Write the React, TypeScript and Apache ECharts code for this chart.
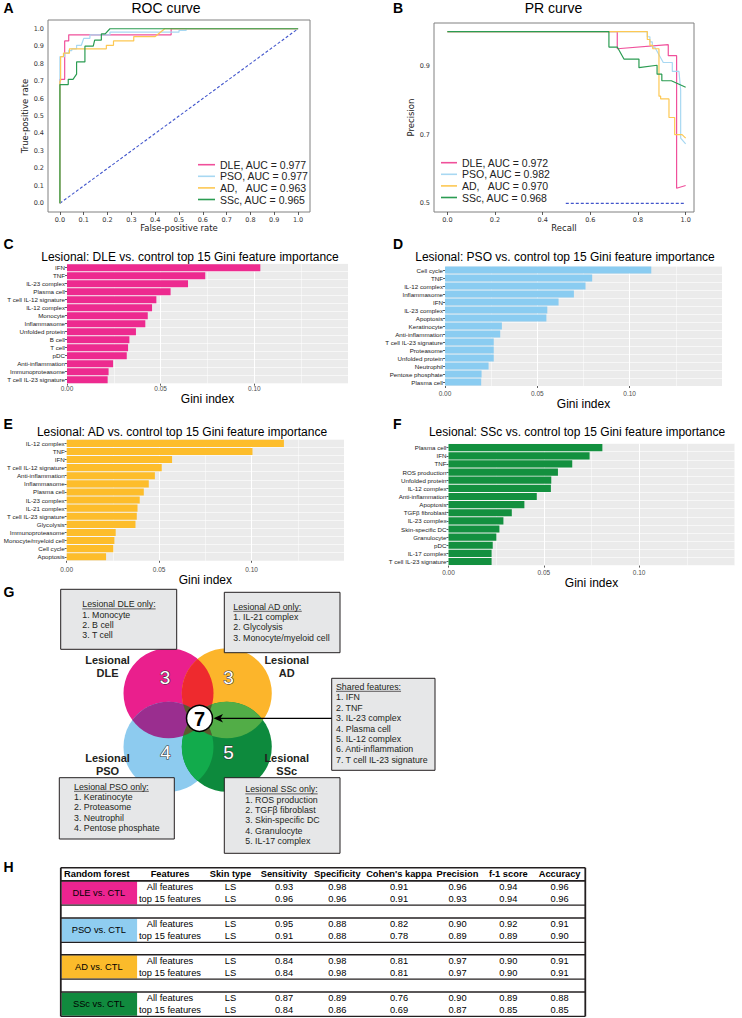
import React, { useEffect, useRef } from "react";
import * as echarts from "echarts";

// ---------------- DATA ----------------
const rocNames = ["DLE, AUC = 0.977", "PSO, AUC = 0.977", "AD,   AUC = 0.963", "SSc, AUC = 0.965"];
const prNames = ["DLE, AUC = 0.972", "PSO, AUC = 0.982", "AD,   AUC = 0.970", "SSc, AUC = 0.968"];
const rocTicks = [0, 0.1, 0.2, 0.3, 0.4, 0.5, 0.6, 0.7, 0.8, 0.9, 1.0];
const prXTicks = [0, 0.2, 0.4, 0.6, 0.8, 1.0];
const prYTicks = [0.5, 0.7, 0.9];

const rocDLE = [[0, 0], [0, 0.71], [0.02, 0.71], [0.02, 0.93], [0.037, 0.93], [0.037, 0.965], [0.467, 0.965], [0.467, 1], [1, 1]];
const rocPSO = [[0, 0], [0, 0.84], [0.02, 0.84], [0.02, 0.86], [0.037, 0.86], [0.037, 0.875], [0.05, 0.875], [0.05, 0.885], [0.07, 0.885], [0.07, 0.905], [0.09, 0.905], [0.1, 0.945], [0.126, 0.945], [0.126, 0.965], [0.21, 0.965], [0.21, 0.98], [0.5, 0.98], [0.5, 0.99], [0.53, 0.99], [0.53, 1], [1, 1]];
const rocAD = [[0, 0], [0, 0.7], [0.003, 0.7], [0.003, 0.84], [0.015, 0.84], [0.015, 0.86], [0.04, 0.86], [0.04, 0.885], [0.195, 0.885], [0.195, 0.905], [0.225, 0.905], [0.225, 0.93], [0.31, 0.93], [0.31, 0.955], [0.4, 0.955], [0.44, 1], [1, 1]];
const rocSSc = [[0, 0], [0, 0.68], [0.035, 0.68], [0.035, 0.71], [0.055, 0.71], [0.07, 0.74], [0.07, 0.81], [0.105, 0.81], [0.105, 0.9], [0.14, 0.9], [0.146, 0.935], [0.174, 0.935], [0.174, 0.97], [0.19, 0.97], [0.21, 1], [1, 1]];
const rocChance = [[0, 0], [1, 1]];

const prDLE = [[0, 1], [0.713, 1], [0.713, 0.95], [0.927, 0.962], [0.927, 0.93], [0.962, 0.93], [0.962, 0.544], [1.0, 0.552]];
const prPSO = [[0, 1], [0.839, 1], [0.839, 0.985], [0.85, 0.985], [0.85, 0.97], [0.86, 0.97], [0.86, 0.955], [0.87, 0.955], [0.906, 0.91], [0.944, 0.91], [0.944, 0.884], [0.972, 0.884], [0.979, 0.83], [0.979, 0.69], [1.0, 0.673]];
const prAD = [[0, 1], [0.839, 1], [0.839, 0.977], [0.85, 0.977], [0.85, 0.96], [0.862, 0.96], [0.862, 0.95], [0.888, 0.95], [0.888, 0.812], [0.895, 0.812], [0.895, 0.804], [0.93, 0.804], [0.93, 0.75], [0.954, 0.75], [0.954, 0.7], [0.985, 0.7], [1.0, 0.69]];
const prSSc = [[0, 1], [0.678, 1], [0.678, 0.955], [0.713, 0.955], [0.741, 0.92], [0.804, 0.92], [0.804, 0.895], [0.88, 0.902], [0.88, 0.876], [0.9, 0.876], [0.9, 0.857], [0.94, 0.857], [1.0, 0.838]];
const prBaseline = [[0.497, 0.5], [1.0, 0.5]];

const dleFeatures = ["IFN", "TNF", "IL-23 complex", "Plasma cell", "T cell IL-12 signature", "IL-12 complex", "Monocyte", "Inflammasome", "Unfolded protein", "B cell", "T cell", "pDC", "Anti-inflammation", "Immunoproteasome", "T cell IL-23 signature"];
const dleGini = [0.1032, 0.0738, 0.0646, 0.0553, 0.0477, 0.0454, 0.0431, 0.0418, 0.0368, 0.0333, 0.0326, 0.0319, 0.0246, 0.0222, 0.0217];
const psoFeatures = ["Cell cycle", "TNF", "IL-12 complex", "Inflammasome", "IFN", "IL-23 complex", "Apoptosis", "Keratinocyte", "Anti-inflammation", "T cell IL-23 signature", "Proteasome", "Unfolded protein", "Neutrophil", "Pentose phosphate", "Plasma cell"];
const psoGini = [0.1117, 0.0797, 0.0761, 0.0698, 0.0615, 0.0554, 0.0549, 0.0308, 0.0299, 0.0264, 0.0264, 0.0264, 0.0236, 0.0198, 0.0196];
const adFeatures = ["IL-12 complex", "TNF", "IFN", "T cell IL-12 signature", "Anti-inflammation", "Inflammasome", "Plasma cell", "IL-23 complex", "IL-21 complex", "T cell IL-23 signature", "Glycolysis", "Immunoproteasome", "Monocyte/myeloid cell", "Cell cycle", "Apoptosis"];
const adGini = [0.1175, 0.1005, 0.057, 0.0514, 0.0477, 0.0444, 0.0417, 0.0395, 0.0383, 0.0379, 0.0372, 0.0265, 0.0258, 0.0252, 0.0213];
const sscFeatures = ["Plasma cell", "IFN", "TNF", "ROS production", "Unfolded protein", "IL-12 complex", "Anti-inflammation", "Apoptosis", "TGFβ fibroblast", "IL-23 complex", "Skin-specific DC", "Granulocyte", "pDC", "IL-17 complex", "T cell IL-23 signature"];
const sscGini = [0.0807, 0.074, 0.0649, 0.0574, 0.0539, 0.0537, 0.0463, 0.0398, 0.0332, 0.0288, 0.0267, 0.0251, 0.0232, 0.0226, 0.0226];
const giniTicks = [0, 0.05, 0.1];

const barTitles = [
  "Lesional: DLE vs. control top 15 Gini feature importance",
  "Lesional: PSO vs. control top 15 Gini feature importance",
  "Lesional: AD vs. control top 15 Gini feature importance",
  "Lesional: SSc vs. control top 15 Gini feature importance",
];

const vennCounts = [3, 3, 4, 5];
const vennShared = 7;
const dleOnly = ["1. Monocyte", "2. B cell", "3. T cell"];
const adOnly = ["1. IL-21 complex", "2. Glycolysis", "3. Monocyte/myeloid cell"];
const psoOnly = ["1. Keratinocyte", "2. Proteasome", "3. Neutrophil", "4. Pentose phosphate"];
const sscOnly = ["1. ROS production", "2. TGFβ fibroblast", "3. Skin-specific DC", "4. Granulocyte", "5. IL-17 complex"];
const sharedFeatures = ["1. IFN", "2. TNF", "3. IL-23 complex", "4. Plasma cell", "5. IL-12 complex", "6. Anti-inflammation", "7. T cell IL-23 signature"];

const tableHeaders = ["Random forest", "Features", "Skin type", "Sensitivity", "Specificity", "Cohen's kappa", "Precision", "f-1 score", "Accuracy"];
const tableModels = ["DLE vs. CTL", "PSO vs. CTL", "AD vs. CTL", "SSc vs. CTL"];
const tableFeatureSets = ["All features", "top 15 features"];
const tableSkin = "LS";
const metricsDLE = [[0.93, 0.98, 0.91, 0.96, 0.94, 0.96], [0.96, 0.96, 0.91, 0.93, 0.94, 0.96]];
const metricsPSO = [[0.95, 0.88, 0.82, 0.9, 0.92, 0.91], [0.91, 0.88, 0.78, 0.89, 0.89, 0.9]];
const metricsAD = [[0.84, 0.98, 0.81, 0.97, 0.9, 0.91], [0.84, 0.98, 0.81, 0.97, 0.9, 0.91]];
const metricsSSc = [[0.87, 0.89, 0.76, 0.9, 0.89, 0.88], [0.84, 0.86, 0.69, 0.87, 0.85, 0.85]];

// ---------------- STYLE ----------------
const SANS = "'Liberation Sans', Arial, sans-serif";
const DEJAVU = "'DejaVu Sans', sans-serif";
const lineColors = ["#f0509b", "#a8d8f2", "#fdc853", "#2b9c52"];
const barColors = ["#ed2a8f", "#8accf1", "#fdbd2b", "#13903f"];
const groupColors = ["#ec2490", "#8fcdf0", "#fbbb2b", "#118a3e"];

// Venn geometry
const R = 45;
const cDLE = [168.5, 693.3];
const cAD = [226.8, 693.3];
const cPSO = [168.5, 746.8];
const cSSc = [226.8, 746.8];

function lensPath(c1: number[], c2: number[], r: number) {
  const dx = c2[0] - c1[0], dy = c2[1] - c1[1];
  const d = Math.hypot(dx, dy);
  const h = Math.sqrt(r * r - (d / 2) * (d / 2));
  const mx = c1[0] + dx / 2, my = c1[1] + dy / 2;
  const ux = -dy / d, uy = dx / d;
  const p1 = [mx + ux * h, my + uy * h], p2 = [mx - ux * h, my - uy * h];
  const f = (n: number) => n.toFixed(2);
  return `M${f(p1[0])} ${f(p1[1])} A${r} ${r} 0 0 1 ${f(p2[0])} ${f(p2[1])} A${r} ${r} 0 0 1 ${f(p1[0])} ${f(p1[1])} Z`;
}

echarts.graphic.registerShape("lensDA", echarts.graphic.extendPath(lensPath(cDLE, cAD, R), {}));
echarts.graphic.registerShape("lensDP", echarts.graphic.extendPath(lensPath(cDLE, cPSO, R), {}));
echarts.graphic.registerShape("lensAS", echarts.graphic.extendPath(lensPath(cAD, cSSc, R), {}));
echarts.graphic.registerShape("lensPS", echarts.graphic.extendPath(lensPath(cPSO, cSSc, R), {}));
echarts.graphic.registerShape("lensDS", echarts.graphic.extendPath(lensPath(cDLE, cSSc, R), {}));
echarts.graphic.registerShape("lensAP", echarts.graphic.extendPath(lensPath(cAD, cPSO, R), {}));

function measure(text: string, font: string) {
  const ctx = document.createElement("canvas").getContext("2d");
  if (!ctx) return text.length * 4.5;
  ctx.font = font;
  return ctx.measureText(text).width;
}

function txt(text: string, x: number, y: number, o: any = {}) {
  return {
    type: "text",
    x,
    y,
    silent: true,
    z: 100,
    style: {
      text,
      fill: o.fill ?? "#000",
      fontSize: o.size ?? 9,
      fontFamily: o.family ?? SANS,
      fontWeight: o.weight ?? "normal",
      align: o.align ?? "left",
      verticalAlign: "middle",
      lineHeight: o.lineHeight,
      stroke: o.stroke,
      lineWidth: o.lineWidth,
    },
  };
}

function seg(x1: number, y1: number, x2: number, y2: number, w = 1, color = "#231f20") {
  return { type: "line", silent: true, z: 100, shape: { x1, y1, x2, y2 }, style: { stroke: color, lineWidth: w } };
}

function box(x: number, y: number, w: number, h: number, heading: string, items: string[], tx: number, ty: number, gap = 10.3) {
  const out: any[] = [];
  out.push({ type: "rect", z: 90, silent: true, shape: { x, y, width: w, height: h }, style: { fill: "#e6e7e8", stroke: "#231f20", lineWidth: 1 } });
  out.push(txt(heading, tx, ty, { size: 8.8, fill: "#231f20" }));
  const wid = measure(heading, `8.8px 'Liberation Sans'`);
  out.push(seg(tx, ty + 4.6, tx + wid, ty + 4.6, 0.7, "#231f20"));
  items.forEach((s, i) => out.push(txt(s, tx, ty + gap * (i + 1), { size: 8.8, fill: "#231f20" })));
  return out;
}

function buildGraphic() {
  const g: any[] = [];
  const letters: [string, number, number][] = [["A", 3.5, 8.3], ["B", 393, 8.3], ["C", 3.5, 244], ["D", 393, 244], ["E", 3.5, 424], ["F", 393, 424], ["G", 3.5, 592], ["H", 3.5, 867]];
  letters.forEach(([l, x, y]) => g.push(txt(l, x, y, { size: 14, weight: "bold" })));
  g.push(txt("ROC curve", 166, 8, { size: 14, align: "center" }));
  g.push(txt("PR curve", 553.5, 7.5, { size: 14, align: "center" }));
  g.push(txt(barTitles[0], 190, 256.7, { size: 12, align: "center" }));
  g.push(txt(barTitles[1], 565, 256.7, { size: 12, align: "center" }));
  g.push(txt(barTitles[2], 182, 432.3, { size: 12, align: "center" }));
  g.push(txt(barTitles[3], 577, 432.3, { size: 12, align: "center" }));

  const circ = (c: number[], fill: string) => ({ type: "circle", silent: true, z: 50, shape: { cx: c[0], cy: c[1], r: R }, style: { fill } });
  g.push(circ(cDLE, "#ea1f8d"));
  g.push(circ(cAD, "#fcb52b"));
  g.push(circ(cPSO, "#8dcbef"));
  g.push(circ(cSSc, "#0d8a3d"));
  const lens = (type: string, fill: string) => ({ type, x: 0, y: 0, silent: true, z: 51, style: { fill } });
  g.push(lens("lensDA", "#ee2a2e"));
  g.push(lens("lensDP", "#9a2e8f"));
  g.push(lens("lensAS", "#52ad47"));
  g.push(lens("lensPS", "#12ab4c"));
  g.push(lens("lensDS", "#5c5a2e"));
  g.push(lens("lensAP", "#5c5a2e"));
  const numStyle = { size: 19, fill: "#fff", stroke: "#333", lineWidth: 1.1, align: "center" };
  g.push(txt(String(vennCounts[0]), 165, 677, numStyle));
  g.push(txt(String(vennCounts[1]), 228.5, 677, numStyle));
  g.push(txt(String(vennCounts[2]), 165.5, 752, numStyle));
  g.push(txt(String(vennCounts[3]), 228.5, 752, numStyle));
  g.push({ type: "circle", silent: true, z: 60, shape: { cx: 199.5, cy: 718.3, r: 13 }, style: { fill: "#fff", stroke: "#000", lineWidth: 1.5 } });
  g.push(txt(String(vennShared), 199.5, 719, { size: 20, weight: "bold", align: "center" }));
  g.push(seg(331.7, 718.3, 220, 718.3, 1.2, "#000"));
  g.push({ type: "polygon", silent: true, z: 100, shape: { points: [[213.5, 718.3], [223, 714], [220.5, 718.3], [223, 722.6]] }, style: { fill: "#000" } });
  const lab = { size: 11, weight: "bold", align: "center", lineHeight: 13.5, fill: "#231f20" };
  g.push(txt("Lesional\nDLE", 107.5, 666.7, lab));
  g.push(txt("Lesional\nAD", 286.7, 666.7, lab));
  g.push(txt("Lesional\nPSO", 107.5, 764.7, lab));
  g.push(txt("Lesional\nSSc", 286.7, 764.7, lab));
  g.push(...box(60.7, 589.3, 116, 60, "Lesional DLE only:", dleOnly, 82.3, 604.3));
  g.push(...box(224.3, 592.3, 115.7, 60.4, "Lesional AD only:", adOnly, 233.3, 606.7));
  g.push(...box(331.7, 678.3, 103.3, 92, "Shared features:", sharedFeatures, 336, 686.7, 10.45));
  g.push(...box(59.3, 777.7, 115, 61.3, "Lesional PSO only:", psoOnly, 74, 786.7));
  g.push(...box(224.3, 777.7, 115.7, 75.6, "Lesional SSc only:", sscOnly, 245.3, 789.3));

  // Table
  const tL = 60.8, tR = 585.3, tTop = 867.7, hdrBot = 880.7;
  const blockTops = [880.7, 918, 954.7, 992];
  const blockH = 24.4;
  const colX = [97.4, 170, 230.4, 284, 337.3, 399, 457.5, 508.3, 559.6];
  const metrics = [metricsDLE, metricsPSO, metricsAD, metricsSSc];
  tableHeaders.forEach((h, i) => g.push(txt(h, i === 0 ? 64 : colX[i], 874.3, { size: 9.3, weight: "bold", align: i === 0 ? "left" : "center" })));
  blockTops.forEach((bt, b) => {
    g.push({ type: "rect", silent: true, z: 95, shape: { x: tL + 0.8, y: bt + 0.6, width: 75.5, height: blockH - 1.2 }, style: { fill: groupColors[b] } });
    g.push(txt(tableModels[b], 98.8, bt + blockH / 2, { size: 9.3, align: "center" }));
    tableFeatureSets.forEach((fs, r) => {
      const y = bt + 6.4 + r * 11.9;
      g.push(txt(fs, colX[1], y, { size: 9.3, align: "center" }));
      g.push(txt(tableSkin, colX[2], y, { size: 9.3, align: "center" }));
      metrics[b][r].forEach((v, k) => g.push(txt(v.toFixed(2), colX[3 + k], y, { size: 9.3, align: "center" })));
    });
    g.push(seg(tL, bt, tR, bt, 1.4));
    g.push(seg(tL, bt + blockH, tR, bt + blockH, 1.4));
  });
  g.push(seg(tL, tTop, tR, tTop, 1.6));
  g.push(seg(tL, hdrBot, tR, hdrBot, 1.6));
  g.push(seg(tL, tTop, tL, blockTops[3] + blockH, 1.8));
  g.push(seg(tR, tTop, tR, blockTops[3] + blockH, 1.8));
  return g;
}

function buildOption() {
  const frameGrid = (left: number, top: number, width: number, height: number) => ({ left, top, width, height, show: true, borderColor: "#808080", borderWidth: 1, backgroundColor: "transparent" });
  const barGrid = (left: number, top: number, width: number, height: number) => ({ left, top, width, height, show: true, borderWidth: 0, backgroundColor: "#ebebeb" });
  const grid = [
    frameGrid(48, 20, 262, 192),
    frameGrid(434, 23, 260, 189),
    barGrid(67, 263.7, 281, 120),
    barGrid(445, 266, 277, 120),
    barGrid(66.7, 439.3, 277.3, 121.5),
    barGrid(448.5, 443.6, 286, 122),
  ];

  const mplX = (gi: number, min: number, max: number, ticks: number[], name: string) => ({
    gridIndex: gi, type: "value", min, max,
    axisLine: { show: false, onZero: false },
    splitLine: { show: false },
    axisTick: { show: true, length: 3, customValues: ticks, lineStyle: { color: "#333", width: 0.8 } },
    axisLabel: { customValues: ticks, formatter: (v: number) => v.toFixed(1), fontSize: 6.5, fontFamily: DEJAVU, color: "#333", margin: 4 },
    name, nameLocation: "middle", nameGap: 11, nameTextStyle: { fontFamily: DEJAVU, fontSize: 8.5, color: "#222" },
  });
  const mplY = (gi: number, min: number, max: number, ticks: number[], name: string, gap: number) => ({
    gridIndex: gi, type: "value", min, max,
    axisLine: { show: false, onZero: false },
    splitLine: { show: false },
    axisTick: { show: false },
    axisLabel: { customValues: ticks, formatter: (v: number) => v.toFixed(1), fontSize: 6.5, fontFamily: DEJAVU, color: "#333", margin: 4 },
    name, nameLocation: "middle", nameGap: gap, nameRotate: 90, nameTextStyle: { fontFamily: DEJAVU, fontSize: 8.5, color: "#222" },
  });
  const giniX = (gi: number, margin: number, gap: number) => ({
    gridIndex: gi, type: "value", min: 0, max: 0.15, interval: 0.05,
    axisLine: { show: false, onZero: false },
    axisTick: { show: true, length: 2, customValues: giniTicks, lineStyle: { color: "#333", width: 0.8 } },
    axisLabel: { customValues: giniTicks, formatter: (v: number) => v.toFixed(2), fontSize: 6.5, color: "#4d4d4d", margin },
    splitLine: { show: true, lineStyle: { color: "#ffffff", width: 1 } },
    minorTick: { show: false, splitNumber: 2 },
    minorSplitLine: { show: true, lineStyle: { color: "#ffffff", width: 0.5 } },
    name: "Gini index", nameLocation: "middle", nameGap: gap, nameTextStyle: { fontSize: 12, color: "#000" },
  });
  const catY = (gi: number, data: string[]) => ({
    gridIndex: gi, type: "category", data, inverse: true,
    axisLine: { show: false, onZero: false },
    axisTick: { show: true, length: 2, alignWithLabel: true, lineStyle: { color: "#333", width: 0.8 } },
    axisLabel: { fontSize: 6.2, color: "#1a1a1a", margin: 2, interval: 0 },
    splitLine: { show: true, lineStyle: { color: "#ffffff", width: 0.6 } },
  });

  const xAxis = [
    mplX(0, -0.05, 1.05, rocTicks, "False-positive rate"),
    mplX(1, -0.056, 1.035, prXTicks, "Recall"),
    giniX(2, 1.5, 9),
    giniX(3, 4, 8),
    giniX(4, 5, 10),
    giniX(5, 3.5, 7),
  ];
  const yAxis = [
    mplY(0, -0.05, 1.05, rocTicks, "True-positive rate", 16),
    mplY(1, 0.475, 1.025, prYTicks, "Precision", 14),
    catY(2, dleFeatures),
    catY(3, psoFeatures),
    catY(4, adFeatures),
    catY(5, sscFeatures),
  ];

  const lineSeries = (name: string, data: number[][], gi: number, color: string) => ({
    type: "line", name, data, xAxisIndex: gi, yAxisIndex: gi, showSymbol: false, symbol: "none",
    color, itemStyle: { color }, lineStyle: { color, width: 1.2 }, silent: true,
  });
  const dashSeries = (name: string, data: number[][], gi: number) => ({
    type: "line", name, data, xAxisIndex: gi, yAxisIndex: gi, showSymbol: false, symbol: "none",
    lineStyle: { color: "#4256cc", width: 1.1, type: [3, 2] }, silent: true,
  });
  const barSeries = (name: string, data: number[], gi: number, color: string) => ({
    type: "bar", name, data, xAxisIndex: gi, yAxisIndex: gi, barCategoryGap: "12%", itemStyle: { color }, silent: true,
  });

  const series = [
    dashSeries("chance-roc", rocChance, 0),
    lineSeries(rocNames[0], rocDLE, 0, lineColors[0]),
    lineSeries(rocNames[1], rocPSO, 0, lineColors[1]),
    lineSeries(rocNames[2], rocAD, 0, lineColors[2]),
    lineSeries(rocNames[3], rocSSc, 0, lineColors[3]),
    dashSeries("baseline-pr", prBaseline, 1),
    lineSeries(prNames[0], prDLE, 1, lineColors[0]),
    lineSeries(prNames[1], prPSO, 1, lineColors[1]),
    lineSeries(prNames[2], prAD, 1, lineColors[2]),
    lineSeries(prNames[3], prSSc, 1, lineColors[3]),
    barSeries("DLE", dleGini, 2, barColors[0]),
    barSeries("PSO", psoGini, 3, barColors[1]),
    barSeries("AD", adGini, 4, barColors[2]),
    barSeries("SSc", sscGini, 5, barColors[3]),
  ];

  const legendBase = { orient: "vertical", icon: "rect", itemHeight: 1.6, itemGap: 0.6, padding: 0, selectedMode: false, textStyle: { fontSize: 10.5, color: "#222", fontFamily: SANS } };
  const legend = [
    { ...legendBase, data: rocNames, left: 198, top: 159.2, itemWidth: 17 },
    { ...legendBase, data: prNames, left: 441, top: 157.2, itemWidth: 16 },
  ];

  return {
    animation: false,
    backgroundColor: "#ffffff",
    textStyle: { fontFamily: SANS },
    grid, xAxis, yAxis, series, legend,
    graphic: { elements: buildGraphic() },
  };
}

export default function App() {
  const ref = useRef<HTMLDivElement>(null);
  useEffect(() => {
    if (!ref.current) return;
    const chart = echarts.init(ref.current, null, { renderer: "svg" });
    chart.setOption(buildOption() as any);
    return () => chart.dispose();
  }, []);
  return <div ref={ref} style={{ position: "absolute", left: 0, top: 0, width: 742, height: 1018, background: "#fff" }} />;
}
